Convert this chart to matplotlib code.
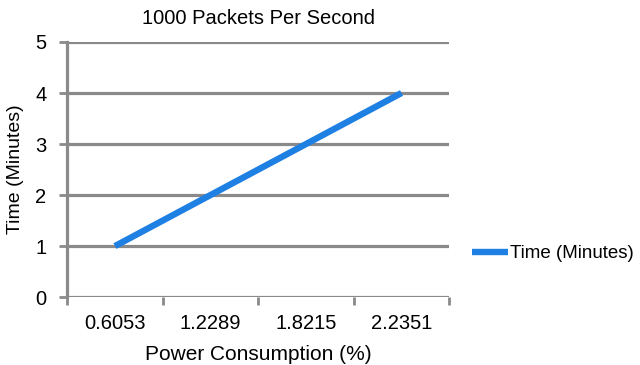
import matplotlib
matplotlib.use("Agg")
import matplotlib.pyplot as plt

# chart data
categories = ["0.6053", "1.2289", "1.8215", "2.2351"]
time_minutes = [1, 2, 3, 4]
y_ticks = [0, 1, 2, 3, 4, 5]

plt.rcParams['font.family'] = ['Liberation Sans', 'DejaVu Sans']

fig = plt.figure(figsize=(6.4, 3.65), dpi=100)
ax = fig.add_axes([0.105, 0.186, 0.597, 0.699])

grey = '#8a8a8a'
x = list(range(len(categories)))

# gridlines
for yv in y_ticks:
    ax.axhline(yv, color=grey, lw=2.3, zorder=1)

ax.plot(x, time_minutes, color='#1f80e4', lw=4.6, solid_capstyle='butt',
        label='Time (Minutes)', zorder=3)

ax.set_xlim(-0.5, len(categories) - 0.5)
ax.set_ylim(0, 5)
ax.set_yticks(y_ticks)
ax.set_xticks(x)
ax.set_xticklabels(categories)
ax.set_xticks([i - 0.5 for i in range(len(categories) + 1)], minor=True)
ax.tick_params(axis='x', which='major', length=0, pad=12, labelsize=14.5)
ax.tick_params(axis='x', which='minor', length=6, width=2, color=grey)
ax.tick_params(axis='y', length=6, width=2, color=grey, labelsize=14.5, pad=9)

for side in ['top', 'right']:
    ax.spines[side].set_visible(False)
ax.spines['bottom'].set_visible(False)
ax.spines['left'].set_color(grey)
ax.spines['left'].set_linewidth(2.3)
ax.spines['left'].set_zorder(2)

ax.set_title('1000 Packets Per Second', fontsize=14.5, pad=13)
ax.set_xlabel('Power Consumption (%)', fontsize=15, labelpad=9)
ax.set_ylabel('Time (Minutes)', fontsize=14, labelpad=8)

ax.legend(loc='center left', bbox_to_anchor=(1.06, 0.17), frameon=False,
          fontsize=13.5, handlelength=1.9, handletextpad=0.1,
          borderaxespad=0, borderpad=0)

fig.savefig('out.png', dpi=100)
